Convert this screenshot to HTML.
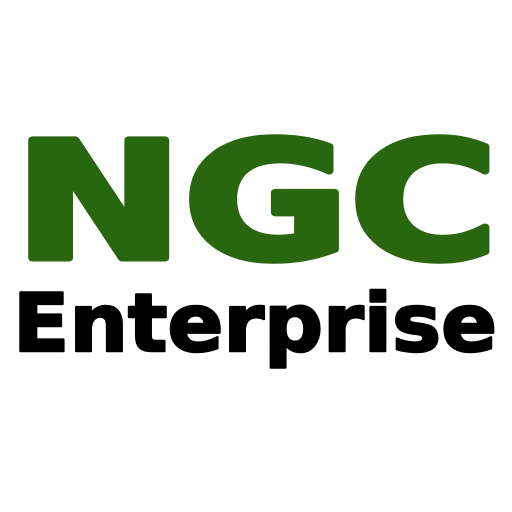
<!DOCTYPE html>
<html>
<head>
<meta charset="utf-8">
<style>
  html, body { margin: 0; padding: 0; background: #ffffff; }
  svg { display: block; }
</style>
</head>
<body>
<svg width="512" height="512" viewBox="0 0 512 512">
  <rect x="0" y="0" width="512" height="512" fill="#ffffff"/>
  <text x="14" y="258" font-family="'DejaVu Sans', 'Liberation Sans', sans-serif" font-weight="bold" font-size="162" fill="#29660f" stroke="#29660f" stroke-width="7" stroke-linejoin="round" textLength="484" lengthAdjust="spacingAndGlyphs">NGC</text>
  <text x="13" y="351" font-family="'DejaVu Sans', 'Liberation Sans', sans-serif" font-weight="bold" font-size="80" fill="#000000" stroke="#000000" stroke-width="2.5" stroke-linejoin="round" textLength="484" lengthAdjust="spacingAndGlyphs">Enterprise</text>
</svg>
</body>
</html>
